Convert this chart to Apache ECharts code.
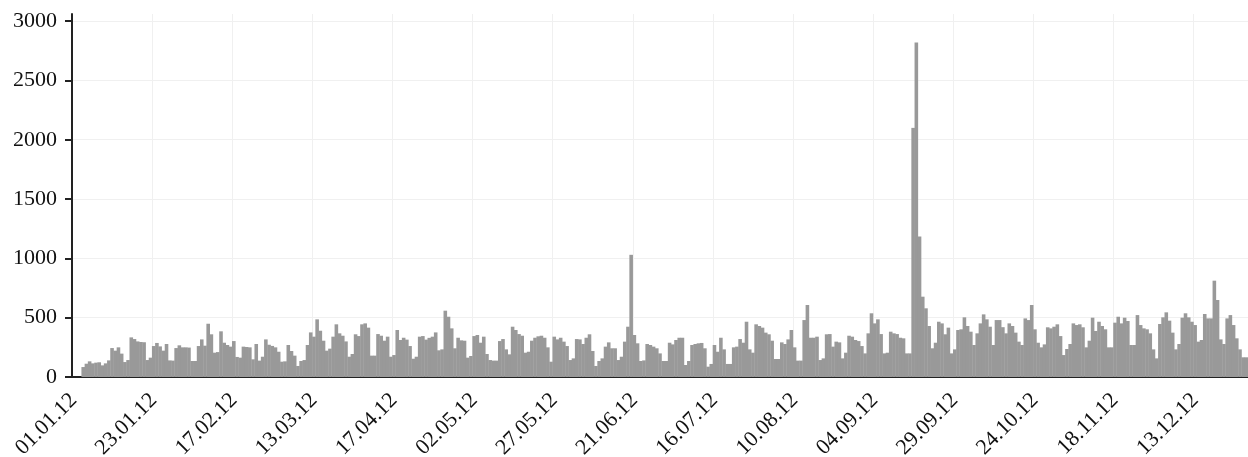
<!DOCTYPE html>
<html><head><meta charset="utf-8">
<script src="https://cdn.jsdelivr.net/npm/echarts@6/dist/echarts.min.js"></script>
<style>html,body{margin:0;padding:0;background:#fff}#c{width:1248px;height:457px}</style>
</head><body><div id="c"></div>
<script>
// x tick labels, one every 25 categories
const tickLabels = ['01.01.12','23.01.12','17.02.12','13.03.12','17.04.12','02.05.12','27.05.12','21.06.12','16.07.12','10.08.12','04.09.12','29.09.12','24.10.12','18.11.12','13.12.12'];
const tickStep = 25;
const yTicks = [0,500,1000,1500,2000,2500,3000];

// daily values
const values = [
0,0,0,84,112,132,115,121,124,98,
115,140,244,222,250,197,126,143,334,320,
300,295,293,143,163,261,287,258,222,278,
140,138,244,267,250,250,248,135,135,261,
317,264,449,360,205,210,385,289,270,256,
303,169,163,256,253,250,149,278,138,171,
317,272,262,250,213,129,132,270,219,180,
93,135,143,270,376,340,486,390,306,222,
239,340,444,368,348,300,171,194,360,345,
444,452,416,180,180,362,348,306,340,171,
185,396,312,331,315,261,154,171,340,345,
315,330,340,376,225,233,559,508,410,242,
331,309,306,163,177,345,354,289,340,194,
143,138,138,303,320,233,191,424,396,362,
348,205,213,306,331,343,348,331,250,129,
340,317,331,298,261,143,157,320,317,278,
331,360,219,93,135,157,256,292,242,242,
143,171,298,424,1030,354,284,135,140,278,
270,256,242,199,135,135,289,275,312,331,
331,101,135,270,278,284,287,242,87,110,
270,213,331,233,110,110,250,256,320,289,
466,233,205,444,430,416,374,360,306,152,
152,292,278,317,396,250,138,138,480,607,
331,331,340,143,157,360,362,256,298,292,
157,205,348,340,312,303,261,199,368,537,
452,486,362,199,205,382,368,362,331,326,
199,199,2100,2820,1185,677,579,430,242,289,
466,452,360,416,199,233,396,402,503,430,
382,270,368,452,528,486,424,270,480,480,
420,368,452,430,374,298,270,494,480,607,
402,289,250,275,419,410,424,444,345,185,
236,278,452,438,444,419,250,306,500,388,
466,430,402,250,250,458,508,452,500,472,
270,270,522,438,410,402,368,233,157,447,
503,545,475,374,233,278,500,537,503,466,
438,298,312,531,494,494,812,649,317,278,
494,522,438,326,233,166,166
];
const categories = values.map((_, i) => String(i));

const font = "'Liberation Serif','Times New Roman',serif";
const showTick = i => i % tickStep === 0;

const chart = echarts.init(document.getElementById('c'), null, {renderer: 'canvas'});
chart.setOption({
  animation: false,
  grid: {left: 72, right: 0, top: 14, bottom: 80, containLabel: false, outerBoundsMode: 'none'},
  xAxis: {
    type: 'category',
    data: categories,
    boundaryGap: true,
    axisLine: {lineStyle: {color: '#222', width: 2}},
    axisTick: {interval: showTick, length: 6, lineStyle: {color: '#222', width: 2}},
    axisLabel: {
      interval: showTick, rotate: 45, margin: 20,
      color: '#111', fontFamily: font, fontSize: 22,
      formatter: (v) => tickLabels[Number(v) / tickStep] || ''
    },
    splitLine: {show: true, interval: showTick, lineStyle: {color: '#f0f0f0', width: 1}}
  },
  yAxis: {
    type: 'value',
    min: 0, max: 3060,
    axisLine: {show: true, lineStyle: {color: '#222', width: 2}},
    axisTick: {show: true, length: 7, customValues: yTicks, lineStyle: {color: '#222', width: 2}},
    axisLabel: {customValues: yTicks, margin: 15, color: '#111', fontFamily: font, fontSize: 22,
      formatter: (v) => String(v)},
    splitLine: {show: true, lineStyle: {color: '#f0f0f0', width: 1}}
  },
  series: [{
    type: 'bar',
    data: values,
    barWidth: '112%',
    itemStyle: {color: '#999999'},
    silent: true
  }]
});
</script>
</body></html>
